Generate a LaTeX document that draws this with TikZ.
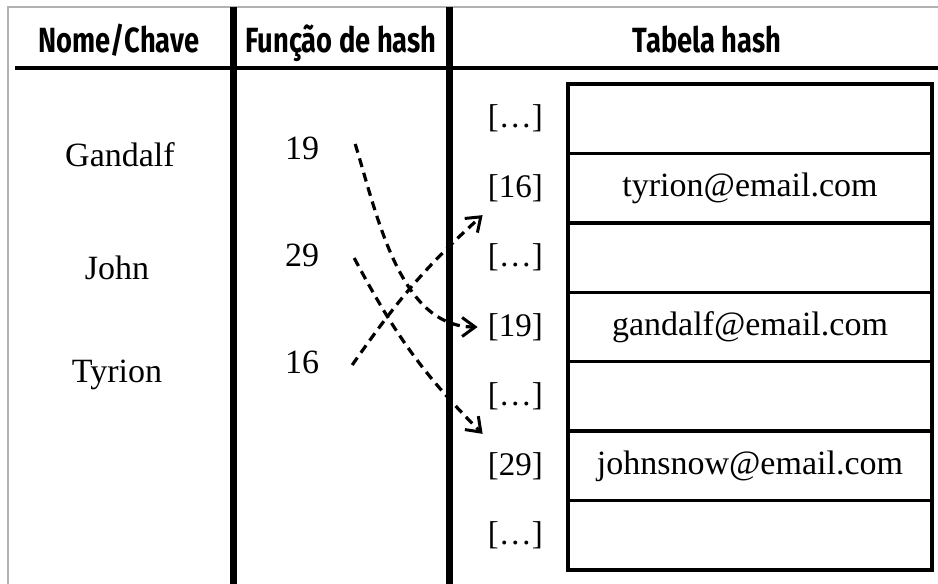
\documentclass[tikz,border=0pt]{standalone}
\usepackage{fontspec}
\setmainfont{Liberation Serif}
\newfontfamily\headfont[FakeStretch=0.78]{Fira Sans}
\usetikzlibrary{arrows.meta,positioning}
\tikzset{
  headtext/.style={font=\headfont\bfseries\fontsize{35}{40}\selectfont,inner sep=0pt,anchor=base},
  keytext/.style={font=\fontsize{34}{38}\selectfont,inner sep=0pt},
  slotbox/.style={
    draw,line width=3.5pt,outer sep=0pt,inner sep=0pt,
    minimum width=364pt,minimum height=69.43pt,
    font=\fontsize{34}{38}\selectfont
  },
  idxlabel/.style={font=\fontsize{33}{38}\selectfont,inner sep=0pt},
  colrule/.style={line width=7pt},
  hasharrow/.style={
    -{Straight Barb[length=13pt,width=19pt,line width=3pt]},
    line width=3.2pt,dash pattern=on 9pt off 6pt
  }
}

\begin{document}
\begin{tikzpicture}[x=1pt,y=-1pt]
\useasboundingbox (0,0) rectangle (938,584);

% frame and columns
\draw[gray!60,line width=1.2pt] (8,584) -- (8,7) -- (938,7);
\draw[line width=3.5pt] (15,68) -- (938,68);
\draw[colrule] (233,7) -- (233,584);
\draw[colrule] (449,7) -- (449,584);

\node[headtext] (hkey) at (119,52) {Nome/Chave};
\node[headtext] (hfun) at (341,52) {Função de hash};
\node[headtext] (htab) at (707,52) {Tabela hash};

% keys and hash values
\node[keytext] (gandalf) at (120,155) {Gandalf};
\node[keytext] (john) at (117,268) {John};
\node[keytext] (tyrion) at (117,375) {Tyrion};

\node[keytext] (n19) at (302,148) {19};
\node[keytext] (n29) at (302,255) {29};
\node[keytext] (n16) at (302,362) {16};

% hash table
\node[slotbox] (r1) at (750,118.7) {};
\node[slotbox,below=0pt of r1] (r2) {tyrion@email.com};
\node[slotbox,below=0pt of r2] (r3) {};
\node[slotbox,below=0pt of r3] (r4) {gandalf@email.com};
\node[slotbox,below=0pt of r4] (r5) {};
\node[slotbox,below=0pt of r5] (r6) {johnsnow@email.com};
\node[slotbox,below=0pt of r6] (r7) {};

\node[idxlabel,left=25pt of r1] (i1) {[…]};
\node[idxlabel,left=25pt of r2] (i16) {[16]};
\node[idxlabel,left=25pt of r3] (i3) {[…]};
\node[idxlabel,left=25pt of r4] (i19) {[19]};
\node[idxlabel,left=25pt of r5] (i5) {[…]};
\node[idxlabel,left=25pt of r6] (i29) {[29]};
\node[idxlabel,left=25pt of r7] (i7) {[…]};

% mapping arrows
\draw[hasharrow] ([xshift=36pt,yshift=4pt]n19.east)
  to[out=-73,in=180,looseness=0.9] ([xshift=-10pt]i19.west);
\draw[hasharrow] ([xshift=35pt,yshift=-3pt]n29.east)
  to[out=-62,in=135] ([xshift=-5pt,yshift=32pt]i29.west);
\draw[hasharrow] ([xshift=33pt,yshift=-3pt]n16.east)
  to[out=55,in=-138] ([xshift=-5pt,yshift=-27pt]i16.west);
\end{tikzpicture}
\end{document}
